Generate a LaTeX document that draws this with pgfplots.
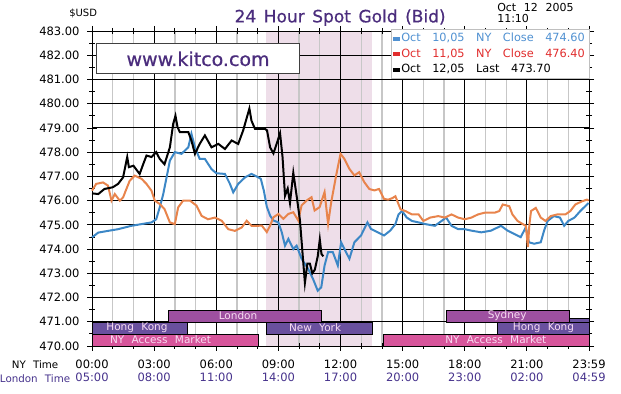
\documentclass[border=0pt]{standalone}
\usepackage{pgfplots}
\pgfplotsset{compat=1.18}
\usepackage{fontspec}
\setmainfont{DejaVu Sans}[WordSpace=2.2]
\newfontfamily\ttlfont{DejaVu Sans}[WordSpace=1.4, FakeBold=0.6]
\newfontfamily\legfont{DejaVu Sans}[WordSpace=3.2]
\definecolor{pinkbg}{RGB}{238,222,233}
\definecolor{lonbar}{RGB}{158,80,160}
\definecolor{hkbar}{RGB}{105,80,158}
\definecolor{nybar}{RGB}{215,85,155}
\definecolor{barlab}{RGB}{248,220,242}
\definecolor{ttlc}{RGB}{75,45,125}
\definecolor{lonc}{RGB}{70,50,140}
\definecolor{blueln}{RGB}{60,135,198}
\definecolor{orangeln}{RGB}{232,132,76}
\definecolor{blueleg}{RGB}{80,145,210}
\definecolor{redleg}{RGB}{225,45,45}
\begin{document}
\begin{tikzpicture}
\begin{axis}[
  set layers,
  scale only axis, width=497bp, height=315bp,
  at={(0,0)}, anchor=south west,
  xmin=0, xmax=24, ymin=470, ymax=483,
  clip=false,
  xtick={0,3,...,24},
  minor xtick={1,2,4,5,7,8,10,11,13,14,16,17,19,20,22,23},
  ytick={470,471,...,483},
  minor ytick={470.5,471.5,...,482.5},
  xmajorgrids, xminorgrids, ymajorgrids,
  major grid style={black, line width=0.9bp},
  minor grid style={black!22, line width=1.3bp},
  axis line style={black, line width=0.8bp},
  tick style={black, line width=0.8bp},
  tick align=center,
  major tick length=10bp, minor tick length=6bp,
  yticklabels={470.00,471.00,472.00,473.00,474.00,475.00,476.00,477.00,478.00,479.00,480.00,481.00,482.00,483.00},
  xticklabels={{00:00\\\textcolor{lonc}{05:00}},{03:00\\\textcolor{lonc}{08:00}},{06:00\\\textcolor{lonc}{11:00}},{09:00\\\textcolor{lonc}{14:00}},{12:00\\\textcolor{lonc}{17:00}},{15:00\\\textcolor{lonc}{20:00}},{18:00\\\textcolor{lonc}{23:00}},{21:00\\\textcolor{lonc}{02:00}},{23:59\\\textcolor{lonc}{04:59}}},
  tick label style={font=\fontsize{11.5bp}{13.8bp}\selectfont},
  xticklabel style={align=center, yshift=-5bp},
  yticklabel style={xshift=-4bp},
  legend cell align=left,
  legend image code/.code={\fill (0bp,-1.6bp) rectangle (6bp,1.6bp);},
  legend style={at={(rel axis cs:1,1.006)}, anchor=north east, draw=black!25, fill=white,
    font=\legfont\fontsize{11.3bp}{12bp}\selectfont, inner sep=2bp, row sep=1.5bp},
]
% COMEX session shading
\addplot[fill=pinkbg, draw=none, on layer=axis background, forget plot] coordinates {(8.38,470) (13.5,470) (13.5,483) (8.38,483)} -- cycle;

% Oct 10
\addplot[blueln, line width=2bp, forget plot] coordinates {
(0,474.48) (0.3,474.68) (0.77,474.75) (1.26,474.82) (1.58,474.89) (1.9,474.96) (2.39,475.03) (2.87,475.1) (3.1,475.23) (3.27,475.72) (3.44,476.27) (3.6,476.96) (3.76,477.65) (4.0,478.0) (4.32,477.93) (4.65,478.2) (4.8,478.76) (4.97,478.2) (5.2,477.72) (5.45,477.72) (5.77,477.3) (6.0,477.13) (6.42,477.1) (6.66,476.69) (6.82,476.34) (7.06,476.69) (7.39,476.96) (7.7,477.1) (8.03,476.96) (8.15,476.9) (8.3,476.4) (8.44,475.75) (8.6,475.38) (8.76,475.18) (9.0,475.1) (9.16,474.7) (9.32,474.14) (9.48,474.42) (9.72,474.0) (9.88,474.14) (10.12,473.6) (10.44,473.18) (10.67,472.77) (10.9,472.28) (11.07,472.42) (11.23,473.32) (11.4,473.87) (11.63,473.87) (11.87,473.32) (12.03,474.28) (12.19,474.0) (12.43,473.6) (12.67,474.28) (12.99,474.56) (13.3,475.1) (13.47,474.83) (13.78,474.7) (14.1,474.56) (14.4,474.76) (14.65,475.03) (14.8,475.43) (14.97,475.57) (15.2,475.3) (15.45,475.16) (15.77,475.1) (16.1,475.03) (16.56,474.96) (16.88,475.16) (17.1,475.3) (17.36,474.96) (17.68,474.82) (18,474.82) (18.32,474.76) (18.8,474.69) (19.27,474.76) (19.75,474.96) (20.07,474.76) (20.4,474.62) (20.7,474.49) (20.95,474.9) (21.1,474.28) (21.35,474.22) (21.67,474.28) (21.83,474.76) (22,475.16) (22.3,475.36) (22.6,475.3) (22.8,474.96) (23.0,475.16) (23.3,475.3) (23.58,475.57) (23.82,475.77) (23.98,475.9)};

% Oct 11
\addplot[orangeln, line width=2bp, forget plot] coordinates {
(0,476.41) (0.2,476.69) (0.53,476.75) (0.77,476.62) (0.94,476.0) (1.1,476.27) (1.34,476.0) (1.5,476.13) (1.66,476.48) (1.82,476.82) (2.06,477.03) (2.39,476.9) (2.63,476.69) (2.87,476.41) (3.03,476.0) (3.27,475.86) (3.5,475.65) (3.76,475.1) (4.0,475.03) (4.16,475.72) (4.4,476.0) (4.73,476.0) (5.05,475.79) (5.29,475.37) (5.6,475.23) (5.94,475.3) (6.26,475.17) (6.58,474.82) (6.9,474.75) (7.23,474.89) (7.47,475.17) (7.7,474.96) (8.03,474.96) (8.2,474.97) (8.44,474.7) (8.6,474.97) (8.76,475.31) (9.0,475.45) (9.24,475.25) (9.48,475.45) (9.72,475.52) (9.96,475.18) (10.12,475.8) (10.36,476.0) (10.6,476.14) (10.75,475.59) (10.99,475.73) (11.23,476.35) (11.4,475.04) (11.55,475.93) (11.79,477.04) (12.0,477.93) (12.19,477.72) (12.43,477.31) (12.67,477.04) (12.9,477.17) (13.15,476.76) (13.39,476.48) (13.63,476.42) (13.86,476.48) (14.1,476.07) (14.3,476.04) (14.5,476.1) (14.65,476.18) (14.9,475.64) (15.13,475.57) (15.45,475.43) (15.77,475.43) (16.0,475.16) (16.33,475.3) (16.72,475.36) (17.04,475.3) (17.36,475.43) (17.68,475.3) (18,475.23) (18.32,475.3) (18.64,475.43) (18.96,475.5) (19.44,475.5) (19.67,475.57) (19.83,475.84) (20.15,475.77) (20.3,475.43) (20.55,475.16) (20.8,475.03) (20.95,474.96) (21.05,474.08) (21.12,475.0) (21.2,475.57) (21.43,475.7) (21.67,475.3) (21.9,475.16) (22.15,475.36) (22.47,475.43) (22.86,475.43) (23.1,475.57) (23.34,475.84) (23.66,475.97) (23.9,476.04) (23.98,476.0)};

% Oct 12
\addplot[black, line width=2bp, forget plot] coordinates {
(0,476.3) (0.3,476.27) (0.6,476.48) (1.0,476.55) (1.26,476.69) (1.5,476.96) (1.7,477.8) (1.78,477.38) (2.0,477.44) (2.3,477.1) (2.47,477.5) (2.63,477.86) (2.87,477.8) (3.1,478.0) (3.27,477.72) (3.5,477.5) (3.76,478.2) (3.92,479.17) (4.03,479.5) (4.13,479.03) (4.24,478.83) (4.65,478.83) (4.8,478.48) (4.97,477.93) (5.2,478.34) (5.45,478.69) (5.77,478.2) (6.1,478.34) (6.42,478.13) (6.74,478.48) (7.06,478.34) (7.3,478.9) (7.6,479.8) (7.7,479.3) (7.87,478.96) (8.35,478.96) (8.45,478.9) (8.6,478.2) (8.76,477.95) (8.9,478.3) (9.08,478.78) (9.2,477.8) (9.32,476.2) (9.45,476.5) (9.56,475.9) (9.72,477.15) (9.88,476.2) (10.04,475.2) (10.15,474.0) (10.28,472.6) (10.4,473.4) (10.52,473.4) (10.64,473.0) (10.76,473.15) (10.9,473.7) (11.0,474.4) (11.08,473.8) (11.17,473.7)};

% market session bars
\addplot[fill=nybar, draw=black, line width=0.5bp, forget plot] coordinates {(0,470) (8.02,470) (8.02,470.5) (0,470.5)} -- cycle;
\addplot[fill=nybar, draw=black, line width=0.5bp, forget plot] coordinates {(14.06,470) (24,470) (24,470.5) (14.06,470.5)} -- cycle;
\addplot[fill=hkbar, draw=black, line width=0.5bp, forget plot] coordinates {(0,470.5) (4.6,470.5) (4.6,471) (0,471)} -- cycle;
\addplot[fill=hkbar, draw=black, line width=0.5bp, forget plot] coordinates {(8.4,470.5) (13.53,470.5) (13.53,471) (8.4,471)} -- cycle;
\addplot[fill=hkbar, draw=black, line width=0.5bp, forget plot] coordinates {(19.57,470.5) (24,470.5) (24,471) (19.57,471)} -- cycle;
\addplot[fill=hkbar, draw=black, line width=0.5bp, forget plot] coordinates {(23.04,471) (24,471) (24,471.13) (23.04,471.13)} -- cycle;
\addplot[fill=lonbar, draw=black, line width=0.5bp, forget plot] coordinates {(3.67,471) (11.06,471) (11.06,471.47) (3.67,471.47)} -- cycle;
\addplot[fill=lonbar, draw=black, line width=0.5bp, forget plot] coordinates {(17.1,471) (23.04,471) (23.04,471.47) (17.1,471.47)} -- cycle;

\begin{scope}[every node/.style={text=barlab, font=\fontsize{10.5bp}{11bp}\selectfont, inner sep=0pt}]
\node at (axis cs:7.05,471.24) {London};
\node at (axis cs:20.05,471.24) {Sydney};
\node at (axis cs:2.17,470.75) {Hong Kong};
\node at (axis cs:10.77,470.75) {New York};
\node at (axis cs:21.8,470.75) {Hong Kong};
\node at (axis cs:3.31,470.25) {NY Access Market};
\node at (axis cs:19.5,470.25) {NY Access Market};
\end{scope}

% kitco box
\node[draw=black!75, line width=1.2bp, fill=white, minimum width=203bp, minimum height=30bp, inner sep=0pt,
  font=\ttlfont\fontsize{19bp}{20bp}\selectfont, text=ttlc] at (axis cs:5.12,481.85) {www.kitco.com};

% titles
\node[font=\ttlfont\fontsize{17bp}{18bp}\selectfont, text=ttlc] at (axis cs:11.98,483.55) {24 Hour Spot Gold (Bid)};
\node[font=\fontsize{10bp}{11bp}\selectfont] at (axis cs:-0.43,483.74) {\$USD};
\node[font=\fontsize{11bp}{11.5bp}\selectfont, align=left, anchor=north west, inner sep=0pt] at (axis cs:19.56,484.15) {Oct 12 2005\\11:10};
\node[font=\fontsize{10.3bp}{12bp}\selectfont, inner sep=0pt] at (axis cs:-2.75,469.22) {NY Time};
\node[font=\fontsize{10.3bp}{12bp}\selectfont, text=lonc, inner sep=0pt] at (axis cs:-2.75,468.64) {London Time};

% legend
\addlegendimage{blueleg}
\addlegendentry{\textcolor{blueleg}{Oct 10,05 NY Close 474.60}}
\addlegendimage{redleg}
\addlegendentry{\textcolor{redleg}{Oct 11,05 NY Close 476.40}}
\addlegendimage{black}
\addlegendentry{Oct 12,05 Last 473.70}
\end{axis}
\path (-92bp,-48bp) rectangle (529bp,346bp);
\end{tikzpicture}
\end{document}
